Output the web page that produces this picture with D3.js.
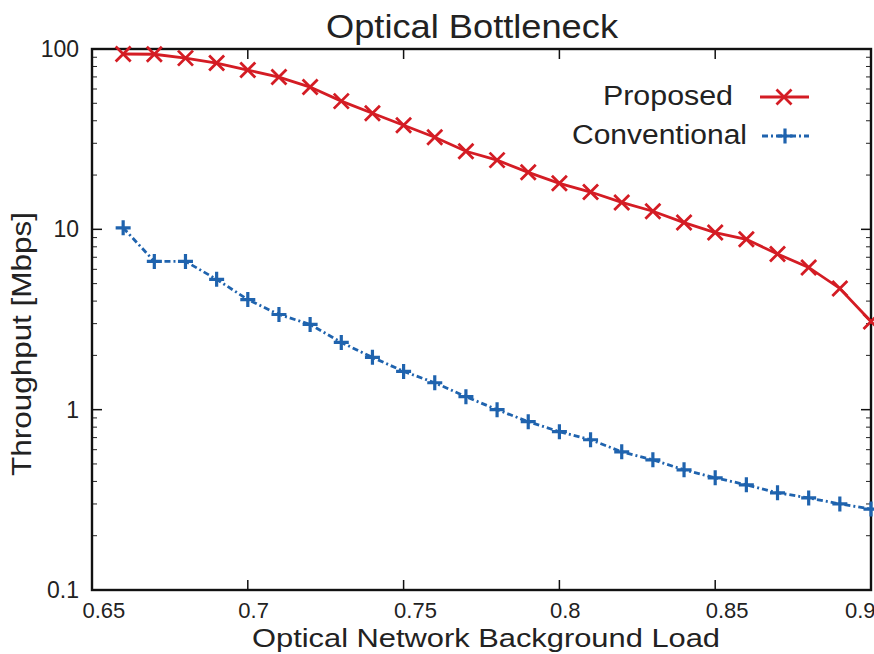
<!DOCTYPE html>
<html>
<head>
<meta charset="utf-8">
<script src="https://cdn.jsdelivr.net/npm/d3@7"></script>
<style>
  html, body { margin: 0; padding: 0; background: #fff; }
  svg { display: block; }
  text { font-family: "Liberation Sans", Arial, Helvetica, sans-serif; fill: #222; }
</style>
</head>
<body>
<svg id="chart" width="874" height="654"></svg>
<script>
// ---- data ----
const loads = [0.66, 0.67, 0.68, 0.69, 0.70, 0.71, 0.72, 0.73, 0.74, 0.75, 0.76, 0.77, 0.78,
               0.79, 0.80, 0.81, 0.82, 0.83, 0.84, 0.85, 0.86, 0.87, 0.88, 0.89, 0.90];
const proposed = [93.8, 93.5, 89, 83.6, 76.4, 69.9, 61.5, 51.4, 44, 37.8, 32.4, 27.1, 24.2,
                  20.7, 18, 16.1, 14.1, 12.6, 10.9, 9.6, 8.8, 7.3, 6.15, 4.7, 3.08];
const conventional = [10.2, 6.64, 6.64, 5.28, 4.08, 3.37, 2.97, 2.36, 1.95, 1.63, 1.41, 1.18, 1.0,
                      0.858, 0.755, 0.681, 0.584, 0.527, 0.464, 0.419, 0.383, 0.346, 0.324, 0.300, 0.281];
const xTicks = [0.65, 0.7, 0.75, 0.8, 0.85, 0.9];
const xTickLabels = ["0.65", "0.7", "0.75", "0.8", "0.85", "0.9"];
const yTicks = [0.1, 1, 10, 100];
const yTickLabels = ["0.1", "1", "10", "100"];
const seriesNames = ["Proposed", "Conventional"];
const titleText = "Optical Bottleneck";
const xLabel = "Optical Network Background Load";
const yLabel = "Throughput [Mbps]";

// ---- layout ----
const L = 92, R = 871, T = 49, B = 590;
const svg = d3.select("#chart");
const x = d3.scaleLinear().domain([0.65, 0.9]).range([L, R]);
const y = d3.scaleLog().domain([0.1, 100]).range([B, T]);

const red = "#d41c24", blue = "#1f63ae";
const dashC = "6,3,2,3";

// minor y ticks
const minorY = [];
for (let d = 0.1; d < 100; d *= 10) for (let k = 2; k <= 9; k++) minorY.push(d * k);

const axisG = svg.append("g");
// bottom ticks + labels
const xb = d3.axisBottom(x).tickValues(xTicks).tickSize(0).tickFormat((d, i) => xTickLabels[i]);
const gxb = axisG.append("g").attr("transform", `translate(0,${B})`).call(xb);
gxb.select(".domain").remove();
gxb.selectAll("text").attr("font-size", 22).attr("fill", "#222")
   .attr("font-family", "'Liberation Sans', Arial, sans-serif")
   .attr("y", 12).attr("dy", "0.71em")
   .attr("text-anchor", (d, i) => i === xTicks.length - 1 ? "end" : "start")
   .attr("dx", (d, i) => i === xTicks.length - 1 ? 4 : -10);
// inward tick marks on bottom/top
[B, T].forEach((yy, j) => {
  axisG.append("g").selectAll("line").data(xTicks.slice(1, -1)).join("line")
    .attr("x1", d => x(d)).attr("x2", d => x(d))
    .attr("y1", yy).attr("y2", j === 0 ? yy - 10 : yy + 10)
    .attr("stroke", "#111").attr("stroke-width", 1.5);
});
// left labels
const yl = d3.axisLeft(y).tickValues(yTicks).tickSize(0).tickFormat((d, i) => yTickLabels[i]);
const gyl = axisG.append("g").attr("transform", `translate(${L},0)`).call(yl);
gyl.select(".domain").remove();
gyl.selectAll("text").attr("font-size", 23).attr("fill", "#222")
   .attr("font-family", "'Liberation Sans', Arial, sans-serif")
   .attr("x", -13);
// y tick marks inward, left and right
[L, R].forEach((xx, j) => {
  const s = j === 0 ? 1 : -1;
  axisG.append("g").selectAll("line").data(yTicks.slice(1, -1)).join("line")
    .attr("x1", xx).attr("x2", xx + s * 10).attr("y1", d => y(d)).attr("y2", d => y(d))
    .attr("stroke", "#111").attr("stroke-width", 1.5);
  axisG.append("g").selectAll("line").data(minorY).join("line")
    .attr("x1", xx).attr("x2", xx + s * 5).attr("y1", d => y(d)).attr("y2", d => y(d))
    .attr("stroke", "#222").attr("stroke-width", 1);
});
// frame
svg.append("rect").attr("x", L).attr("y", T).attr("width", R - L).attr("height", B - T)
   .attr("fill", "none").attr("stroke", "#111").attr("stroke-width", 2.4);

// ---- series ----
const line = d3.line().x(d => x(d[0])).y(d => y(d[1]));
const pData = loads.map((l, i) => [l, proposed[i]]);
const cData = loads.map((l, i) => [l, conventional[i]]);

svg.append("path").datum(pData).attr("d", line).attr("fill", "none")
   .attr("stroke", red).attr("stroke-width", 2.8);
svg.append("path").datum(cData).attr("d", line).attr("fill", "none")
   .attr("stroke", blue).attr("stroke-width", 2.8).attr("stroke-dasharray", dashC);

function xMark(g, cx, cy, s, col) {
  g.append("path").attr("d", `M${cx - s},${cy - s}L${cx + s},${cy + s}M${cx - s},${cy + s}L${cx + s},${cy - s}`)
   .attr("stroke", col).attr("stroke-width", 2.8).attr("fill", "none");
}
function plusMark(g, cx, cy, s, col) {
  g.append("path").attr("d", `M${cx - s},${cy}L${cx + s},${cy}M${cx},${cy - s}L${cx},${cy + s}`)
   .attr("stroke", col).attr("stroke-width", 3.2).attr("fill", "none");
}
const mk = svg.append("g");
pData.forEach(d => xMark(mk, x(d[0]), y(d[1]), 7.5, red));
cData.forEach(d => plusMark(mk, x(d[0]), y(d[1]), 7.5, blue));

// ---- legend ----
const lg = svg.append("g");
lg.append("text").attr("x", 733).attr("y", 105).attr("text-anchor", "end")
  .attr("font-size", 27).attr("textLength", 130).attr("lengthAdjust", "spacingAndGlyphs")
  .text(seriesNames[0]);
lg.append("text").attr("x", 747).attr("y", 144).attr("text-anchor", "end")
  .attr("font-size", 27).attr("textLength", 175).attr("lengthAdjust", "spacingAndGlyphs")
  .text(seriesNames[1]);
lg.append("line").attr("x1", 760).attr("x2", 809).attr("y1", 97).attr("y2", 97)
  .attr("stroke", red).attr("stroke-width", 2.8);
xMark(lg, 784, 97, 7.5, red);
lg.append("line").attr("x1", 762).attr("x2", 809).attr("y1", 136).attr("y2", 136)
  .attr("stroke", blue).attr("stroke-width", 2.8).attr("stroke-dasharray", dashC);
plusMark(lg, 785, 136, 7.5, blue);

// ---- titles ----
svg.append("text").attr("x", 326).attr("y", 38).attr("font-size", 33)
  .attr("textLength", 292).attr("lengthAdjust", "spacingAndGlyphs").text(titleText);
svg.append("text").attr("x", 252).attr("y", 647).attr("font-size", 26)
  .attr("textLength", 468).attr("lengthAdjust", "spacingAndGlyphs").text(xLabel);
svg.append("text").attr("transform", "translate(31,476) rotate(-90)")
  .attr("x", 0).attr("y", 0).attr("font-size", 27)
  .attr("textLength", 264).attr("lengthAdjust", "spacingAndGlyphs").text(yLabel);
</script>
</body>
</html>
